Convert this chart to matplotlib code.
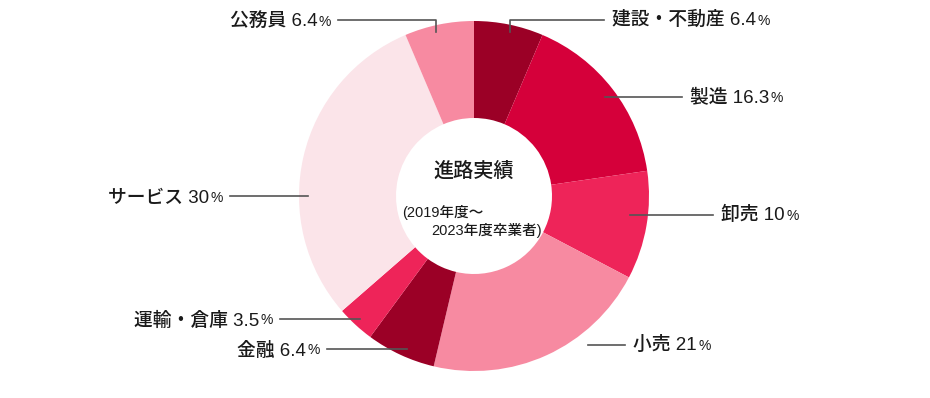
import matplotlib.pyplot as plt

plt.rcParams['font.family'] = ['Liberation Sans', 'Noto Sans CJK JP', 'DejaVu Sans']
plt.rcParams['font.weight'] = 'medium'

# 業種別の進路実績 (%)
labels = ['建設・不動産', '製造', '卸売', '小売', '金融', '運輸・倉庫', 'サービス', '公務員']
values = [6.4, 16.3, 10, 21, 6.4, 3.5, 30, 6.4]
value_text = ['6.4', '16.3', '10', '21', '6.4', '3.5', '30', '6.4']
colors = ['#9b0026', '#d5003a', '#ee2459', '#f78aa1', '#9b0026', '#ee2459', '#fbe4e9', '#f78aa1']

# ラベルの配置 (ピクセル座標): 線の始点, 線の終点, 向き
label_pos = [
    ((510, 32), (604, 20), 'left'),
    ((605, 97), (682, 97), 'left'),
    ((630, 215), (713, 215), 'left'),
    ((588, 345), (625, 345), 'left'),
    ((407, 349), (327, 349), 'right'),
    ((360, 319), (280, 319), 'right'),
    ((308, 196), (230, 196), 'right'),
    ((436, 32), (338, 20), 'right'),
]

fig = plt.figure(figsize=(9.3, 3.98), dpi=100)
ax = fig.add_axes([0, 0, 1, 1])

cx, cy, r = 474, 196, 175
ax.pie(values, colors=colors, center=(cx, cy), radius=r, startangle=-90,
       counterclock=True, wedgeprops=dict(width=97, linewidth=0), frame=True)
ax.set_xlim(0, 930)
ax.set_ylim(398, 0)
ax.set_aspect('equal')
ax.axis('off')

fs, fs_pct = 13.5, 10
for lab, val, (start, end, side) in zip(labels, value_text, label_pos):
    sx, sy = start
    ex, ey = end
    if sy != ey:
        # 上部はL字の線
        ax.plot([sx, sx, ex], [sy, ey, ey], color='#555555', lw=1.2)
    else:
        ax.plot([sx, ex], [sy, ey], color='#555555', lw=1.2)
    if side == 'left':
        t = ax.text(ex + 8, ey, lab + ' ' + val, ha='left', va='center',
                    fontsize=fs, color='#1a1a1a')
        ax.annotate('%', xy=(1, 0.2), xycoords=t, xytext=(1, 0),
                    textcoords='offset points', ha='left', va='baseline',
                    fontsize=fs_pct, color='#1a1a1a')
    else:
        p = ax.text(ex - 7, ey + 5.5, '%', ha='right', va='baseline',
                    fontsize=fs_pct, color='#1a1a1a')
        ax.annotate(lab + ' ' + val, xy=(0, 0.45), xycoords=p, xytext=(-1, 0),
                    textcoords='offset points', ha='right', va='center',
                    fontsize=fs, color='#1a1a1a')

ax.text(cx, 171, '進路実績', ha='center', va='center', fontsize=14.5, color='#1a1a1a')
ax.text(cx - 72, 212, '(2019年度〜', ha='left', va='center', fontsize=10.5, color='#1a1a1a')
ax.text(cx + 68, 231, '2023年度卒業者)', ha='right', va='center', fontsize=10.5, color='#1a1a1a')

fig.savefig('out.png', dpi=100, facecolor='white')
